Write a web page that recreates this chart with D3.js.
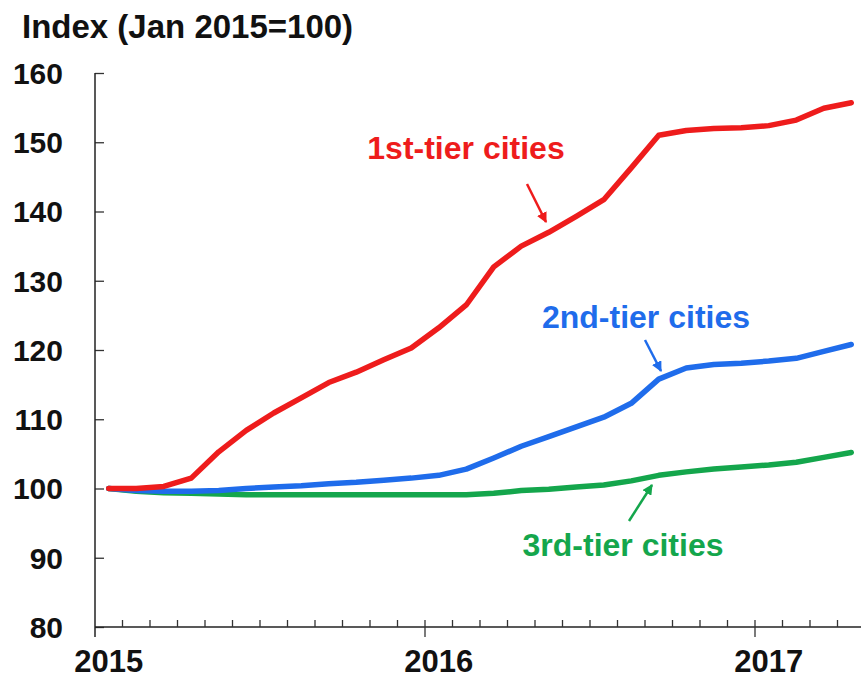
<!DOCTYPE html>
<html>
<head>
<meta charset="utf-8">
<script src="https://cdn.jsdelivr.net/npm/d3@7"></script>
<style>
  html, body { margin: 0; padding: 0; background: #fff; }
  svg { display: block; }
  text { font-family: "Liberation Sans", Arial, sans-serif; font-weight: bold; }
</style>
</head>
<body>
<svg id="chart" width="861" height="680"></svg>
<script>
// Monthly data, Jan 2015 .. Apr 2017
const months = d3.range(28).map(i => {
  const y = 2015 + Math.floor(i / 12), m = i % 12 + 1;
  return y + "-" + String(m).padStart(2, "0");
});
const tier1 = [100, 100, 100.3, 101.5, 105.3, 108.4, 110.9, 113.1, 115.3, 116.8, 118.6, 120.3,
               123.2, 126.5, 132.0, 135.0, 137.0, 139.3, 141.7, 146.3, 151.0, 151.7, 152.0, 152.1,
               152.4, 153.2, 154.9, 155.7];
const tier2 = [100, 99.7, 99.6, 99.6, 99.7, 100.0, 100.2, 100.4, 100.7, 100.9, 101.2, 101.5,
               101.9, 102.8, 104.4, 106.1, 107.5, 108.9, 110.3, 112.3, 115.8, 117.4, 117.9, 118.1,
               118.4, 118.8, 119.8, 120.8];
const tier3 = [100, 99.6, 99.4, 99.3, 99.2, 99.1, 99.1, 99.1, 99.1, 99.1, 99.1, 99.1,
               99.1, 99.1, 99.3, 99.7, 99.9, 100.2, 100.5, 101.1, 101.9, 102.4, 102.8, 103.1,
               103.4, 103.8, 104.5, 105.2];
const seriesNames = ["1st-tier cities", "2nd-tier cities", "3rd-tier cities"];
const seriesColors = ["#ee1c1c", "#1f6ceb", "#14a64c"];
const yTicks = [80, 90, 100, 110, 120, 130, 140, 150, 160];
const yearLabels = ["2015", "2016", "2017"];
const titleText = "Index (Jan 2015=100)";

const svg = d3.select("#chart");
const x = d3.scaleLinear().domain([0, 28]).range([95, 865]);
const y = d3.scaleLinear().domain([80, 160]).range([627, 73]);

// Title
svg.append("text").attr("x", 22).attr("y", 38)
  .attr("font-size", 33).attr("fill", "#111").text(titleText);

// Y axis
const yAxis = d3.axisRight(y).tickValues(yTicks).tickSize(9).tickFormat("");
const gy = svg.append("g").attr("transform", "translate(95,0)").call(yAxis);
gy.select(".domain").remove();
gy.selectAll(".tick line").attr("stroke", "#333").attr("stroke-width", 1.3);
svg.append("line").attr("x1", 95).attr("x2", 95).attr("y1", y(160)).attr("y2", 637)
  .attr("stroke", "#222").attr("stroke-width", 1.5);
svg.append("g").selectAll("text").data(yTicks).join("text")
  .attr("x", 63).attr("y", d => y(d)).attr("dy", "0.36em")
  .attr("text-anchor", "end").attr("font-size", 30).attr("fill", "#111")
  .text(d => d);

// X axis
const monthTicks = d3.range(0, 28);
const gx = svg.append("g").attr("transform", "translate(0,627)");
gx.append("line").attr("x1", 95).attr("x2", 861).attr("stroke", "#222").attr("stroke-width", 1.5);
gx.selectAll("line.tk").data(monthTicks.filter(d => d % 12 !== 0)).join("line")
  .attr("class", "tk").attr("x1", d => x(d)).attr("x2", d => x(d))
  .attr("y1", 0).attr("y2", -7).attr("stroke", "#333").attr("stroke-width", 1.3);
gx.selectAll("line.yt").data([12, 24]).join("line")
  .attr("class", "yt").attr("x1", d => x(d)).attr("x2", d => x(d))
  .attr("y1", -7).attr("y2", 10).attr("stroke", "#333").attr("stroke-width", 1.3);
gx.selectAll("text").data(yearLabels).join("text")
  .attr("x", (d, i) => x(i * 12 + 0.5)).attr("y", 45)
  .attr("text-anchor", "middle").attr("font-size", 31).attr("fill", "#111")
  .text(d => d);

// Lines
const line = d3.line().x((d, i) => x(i + 0.5)).y(d => y(d));
[tier3, tier2, tier1].forEach((s, k) => {
  const idx = 2 - k;
  svg.append("path").datum(s).attr("d", line)
    .attr("fill", "none").attr("stroke", seriesColors[idx])
    .attr("stroke-width", 5.5).attr("stroke-linejoin", "round").attr("stroke-linecap", "round");
});

// Arrow markers
const defs = svg.append("defs");
seriesColors.forEach((c, i) => {
  defs.append("marker").attr("id", "ah" + i).attr("viewBox", "0 0 10 10")
    .attr("refX", 9).attr("refY", 5).attr("markerWidth", 4.2).attr("markerHeight", 4.2)
    .attr("orient", "auto").attr("markerUnits", "strokeWidth")
    .append("path").attr("d", "M0,0 L10,5 L0,10 z").attr("fill", c);
});

// Labels and arrows
const labels = [
  { t: seriesNames[0], x: 466, y: 159, ax1: 527, ay1: 184, ax2: 546, ay2: 222 },
  { t: seriesNames[1], x: 646, y: 328, ax1: 645, ay1: 340, ax2: 661, ay2: 371 },
  { t: seriesNames[2], x: 623, y: 556, ax1: 629, ay1: 521, ax2: 652, ay2: 485 }
];
labels.forEach((l, i) => {
  svg.append("text").attr("x", l.x).attr("y", l.y).attr("text-anchor", "middle")
    .attr("font-size", 32).attr("fill", seriesColors[i]).text(l.t);
  svg.append("line").attr("x1", l.ax1).attr("y1", l.ay1).attr("x2", l.ax2).attr("y2", l.ay2)
    .attr("stroke", seriesColors[i]).attr("stroke-width", 2.5)
    .attr("marker-end", "url(#ah" + i + ")");
});
</script>
</body>
</html>
